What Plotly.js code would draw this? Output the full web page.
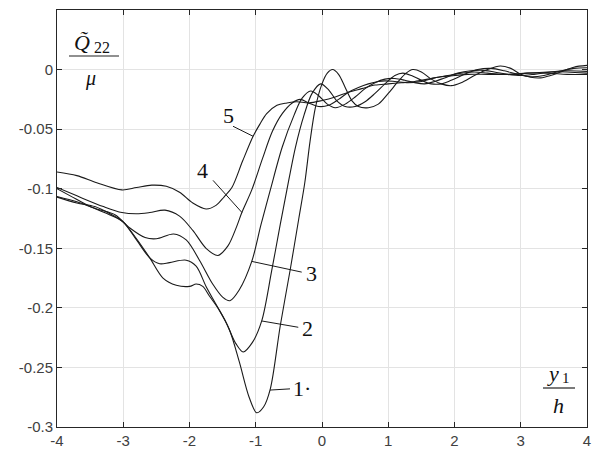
<!DOCTYPE html>
<html>
<head>
<meta charset="utf-8">
<script src="https://cdn.plot.ly/plotly-3.0.1.min.js"></script>
<style>html,body{margin:0;padding:0;background:#fff;}#plot{width:595px;height:450px;}</style>
</head>
<body>
<div id="plot"></div>
<script>
// Curve 1 (deepest)
var x1 = [-4,-3.8,-3.5,-3.2,-3.0,-2.8,-2.6,-2.4,-2.2,-2.0,-1.9,-1.8,-1.7,-1.55,-1.4,-1.25,-1.1,-0.985,-0.88,-0.78,-0.63,-0.48,-0.35,-0.26,-0.18,-0.1,0.0,0.08,0.16,0.25,0.35,0.45,0.55,0.7,0.85,1.0,1.15,1.27,1.37,1.5,1.65,1.8,1.95,2.1,2.3,2.5,2.69,2.85,3.0,3.15,3.3,3.45,3.6,3.8,4.0];
var y1 = [-0.100,-0.106,-0.115,-0.122,-0.128,-0.142,-0.158,-0.175,-0.181,-0.182,-0.180,-0.182,-0.190,-0.202,-0.218,-0.245,-0.275,-0.288,-0.283,-0.268,-0.215,-0.168,-0.125,-0.095,-0.060,-0.032,-0.012,-0.003,0.000,-0.004,-0.015,-0.026,-0.031,-0.032,-0.029,-0.020,-0.010,-0.003,0.000,-0.002,-0.008,-0.012,-0.0135,-0.011,-0.005,0.000,0.003,0.001,-0.004,-0.0065,-0.007,-0.005,-0.002,0.002,0.0035];
// Curve 2
var x2 = [-4,-3.7,-3.43,-3.2,-3.0,-2.8,-2.6,-2.45,-2.3,-2.05,-1.9,-1.75,-1.6,-1.45,-1.3,-1.19,-1.05,-0.91,-0.76,-0.63,-0.53,-0.4,-0.27,-0.15,-0.02,0.1,0.22,0.35,0.5,0.65,0.8,0.95,1.1,1.22,1.35,1.5,1.65,1.8,1.95,2.15,2.35,2.55,2.75,2.95,3.15,3.35,3.55,3.8,4.0];
var y2 = [-0.107,-0.112,-0.115,-0.121,-0.128,-0.143,-0.158,-0.163,-0.162,-0.160,-0.165,-0.182,-0.197,-0.212,-0.230,-0.237,-0.229,-0.211,-0.169,-0.130,-0.101,-0.065,-0.038,-0.020,-0.012,-0.017,-0.026,-0.031,-0.031,-0.027,-0.020,-0.012,-0.005,-0.003,-0.005,-0.009,-0.012,-0.012,-0.009,-0.004,0.000,0.001,-0.001,-0.004,-0.006,-0.005,-0.002,0.001,0.0015];
// Curve 3
var x3 = [-4,-3.7,-3.4,-3.12,-2.9,-2.67,-2.5,-2.24,-2.05,-1.85,-1.65,-1.5,-1.39,-1.25,-1.06,-0.92,-0.78,-0.6,-0.42,-0.3,-0.17,-0.05,0.08,0.2,0.35,0.5,0.65,0.8,0.95,1.1,1.25,1.4,1.55,1.7,1.85,2.05,2.25,2.4,2.6,2.8,3.0,3.2,3.45,3.7,4.0];
var y3 = [-0.1065,-0.111,-0.117,-0.122,-0.133,-0.141,-0.142,-0.138,-0.143,-0.160,-0.180,-0.191,-0.194,-0.185,-0.161,-0.130,-0.101,-0.065,-0.038,-0.024,-0.018,-0.022,-0.029,-0.032,-0.029,-0.023,-0.016,-0.011,-0.008,-0.0075,-0.009,-0.011,-0.012,-0.010,-0.007,-0.003,-0.001,-0.0005,-0.002,-0.004,-0.005,-0.004,-0.002,-0.001,-0.0015];
// Curve 4
var x4 = [-4,-3.7,-3.3,-3.02,-2.8,-2.6,-2.37,-2.15,-1.95,-1.75,-1.57,-1.42,-1.29,-1.21,-1.06,-0.9,-0.75,-0.6,-0.45,-0.33,-0.2,-0.05,0.1,0.25,0.4,0.55,0.7,0.85,0.95,1.1,1.3,1.5,1.7,1.9,2.1,2.3,2.5,2.7,2.9,3.1,3.4,3.7,4.0];
var y4 = [-0.099,-0.106,-0.115,-0.120,-0.121,-0.120,-0.118,-0.123,-0.135,-0.150,-0.156,-0.148,-0.132,-0.120,-0.101,-0.075,-0.052,-0.037,-0.028,-0.025,-0.028,-0.031,-0.030,-0.025,-0.019,-0.015,-0.012,-0.010,-0.0095,-0.010,-0.011,-0.010,-0.007,-0.005,-0.003,-0.002,-0.003,-0.004,-0.004,-0.003,-0.002,-0.002,-0.003];
// Curve 5 (top)
var x5 = [-4,-3.7,-3.4,-3.02,-2.8,-2.57,-2.35,-2.15,-1.95,-1.75,-1.6,-1.48,-1.36,-1.2,-1.04,-0.94,-0.835,-0.68,-0.53,-0.38,-0.2,0.0,0.2,0.4,0.6,0.8,1.0,1.2,1.4,1.6,1.8,2.0,2.2,2.5,2.8,3.1,3.4,3.7,4.0];
var y5 = [-0.086,-0.089,-0.095,-0.101,-0.099,-0.097,-0.098,-0.103,-0.112,-0.117,-0.114,-0.107,-0.099,-0.077,-0.056,-0.046,-0.037,-0.030,-0.028,-0.027,-0.028,-0.026,-0.023,-0.019,-0.016,-0.013,-0.012,-0.011,-0.010,-0.008,-0.006,-0.005,-0.004,-0.004,-0.004,-0.003,-0.003,-0.004,-0.004];

var curveLabels = ['1·','2','3','4','5'];
var xTickVals = [-4,-3,-2,-1,0,1,2,3,4];
var xTickText = ['-4','-3','-2','-1','0','1','2','3','4'];
var yTickVals = [-0.3,-0.25,-0.2,-0.15,-0.1,-0.05,0];
var yTickText = ['-0.3','-0.25','-0.2','-0.15','-0.1','-0.05','0'];

// pixel helpers for plot area (left 57, right 587, top 10, bottom 427)
function px(x){ return (x-57)/530; }
function py(y){ return 1-(y-10)/417; }

var xs=[x1,x2,x3,x4,x5], ys=[y1,y2,y3,y4,y5];
var traces = xs.map(function(x,i){
  return {x:x, y:ys[i], mode:'lines', type:'scatter',
    line:{color:'#1a1a1a', width:1.1, shape:'spline', smoothing:0.9},
    hoverinfo:'none', showlegend:false};
});

// leader lines (data coords) and label positions (pixel)
var leaders = [
  {x0:-0.785,y0:-0.269,x1:-0.483,y1:-0.268, lx:302, ly:388, t:curveLabels[0]},
  {x0:-0.91,y0:-0.211,x1:-0.358,y1:-0.2163, lx:307, ly:328, t:curveLabels[1]},
  {x0:-1.061,y0:-0.161,x1:-0.306,y1:-0.170, lx:311, ly:273, t:curveLabels[2]},
  {x0:-1.645,y0:-0.093,x1:-1.208,y1:-0.120, lx:202, ly:170, t:curveLabels[3]},
  {x0:-1.343,y0:-0.0476,x1:-1.04,y1:-0.056, lx:228, ly:115, t:curveLabels[4]}
];
var shapes = leaders.map(function(l){
  return {type:'line', xref:'x', yref:'y', x0:l.x0, y0:l.y0, x1:l.x1, y1:l.y1, line:{color:'#1a1a1a', width:1}};
});
shapes.push({type:'line', xref:'paper', yref:'paper', x0:px(69), x1:px(119), y0:py(56), y1:py(56), line:{color:'#222', width:1.2}});
shapes.push({type:'line', xref:'paper', yref:'paper', x0:px(543), x1:px(575), y0:py(388), y1:py(388), line:{color:'#222', width:1.2}});

var serif = 'Liberation Serif, Times New Roman, serif';
var annotations = leaders.map(function(l){
  return {xref:'paper', yref:'paper', x:px(l.lx), y:py(l.ly), text:l.t, showarrow:false,
    xanchor:'center', yanchor:'middle', font:{family:serif, size:22, color:'#111'}};
});
annotations.push({xref:'paper', yref:'paper', x:px(82), y:py(43), text:'<i>Q\u0303</i>', showarrow:false, xanchor:'center', yanchor:'middle', font:{family:serif, size:22, color:'#111'}});
annotations.push({xref:'paper', yref:'paper', x:px(102), y:py(47), text:'22', showarrow:false, xanchor:'center', yanchor:'middle', font:{family:serif, size:16, color:'#111'}});
annotations.push({xref:'paper', yref:'paper', x:px(90), y:py(79), text:'<i>\u03bc</i>', showarrow:false, xanchor:'center', yanchor:'middle', font:{family:serif, size:20, color:'#111'}});
annotations.push({xref:'paper', yref:'paper', x:px(553), y:py(373), text:'<i>y</i>', showarrow:false, xanchor:'center', yanchor:'middle', font:{family:serif, size:22, color:'#111'}});
annotations.push({xref:'paper', yref:'paper', x:px(566), y:py(378), text:'1', showarrow:false, xanchor:'center', yanchor:'middle', font:{family:serif, size:15, color:'#111'}});
annotations.push({xref:'paper', yref:'paper', x:px(558), y:py(405), text:'<i>h</i>', showarrow:false, xanchor:'center', yanchor:'middle', font:{family:serif, size:22, color:'#111'}});

var axisCommon = {showgrid:true, gridcolor:'#e3e3e3', gridwidth:1, zeroline:false,
  showline:true, linecolor:'#262626', linewidth:1, mirror:'ticks', ticks:'inside', ticklen:5,
  tickcolor:'#262626', tickfont:{family:'Liberation Sans, Arial, sans-serif', size:15, color:'#404040'}};

var layout = {
  width:595, height:450, margin:{l:57, r:8, t:10, b:23},
  paper_bgcolor:'#fff', plot_bgcolor:'#fff', showlegend:false,
  xaxis: Object.assign({}, axisCommon, {range:[-4,4], tickmode:'array', tickvals:xTickVals, ticktext:xTickText}),
  yaxis: Object.assign({}, axisCommon, {range:[-0.3,0.05], tickmode:'array', tickvals:yTickVals, ticktext:yTickText}),
  shapes:shapes, annotations:annotations
};
Plotly.newPlot('plot', traces, layout, {displayModeBar:false, staticPlot:true});
</script>
</body>
</html>
